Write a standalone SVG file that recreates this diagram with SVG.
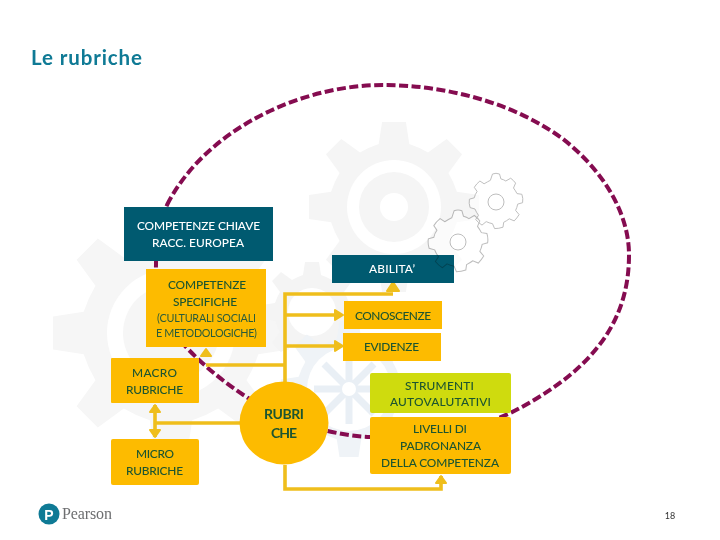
<svg xmlns="http://www.w3.org/2000/svg" width="720" height="540" viewBox="0 0 720 540">
<style>
text{font-family:Lato,"Liberation Sans",sans-serif;text-anchor:middle}
.w{fill:#fff;font-size:11.9px;font-weight:500}
.g{fill:#1c5530;font-size:11.9px;font-weight:500}
.l{fill:#2a5c3a;font-size:10.8px;font-weight:400}
.b{fill:#1c5530;font-size:14px;font-weight:700}
.y{fill:#fdbb00}
.c{fill:none;stroke:#efbe1c;stroke-width:3.6}
.h{fill:#efbe1c;stroke:#efbe1c;stroke-width:2;stroke-linejoin:round}
</style>
<defs>
<path id="gear" d="M-14 -100 L14 -100 L18 -74 Q30 -70 40 -64 L62 -80 L80 -62 L64 -40 Q70 -30 74 -18 L100 -14 L100 14 L74 18 Q70 30 64 40 L80 62 L62 80 L40 64 Q30 70 18 74 L14 100 L-14 100 L-18 74 Q-30 70 -40 64 L-62 80 L-80 62 L-64 40 Q-70 30 -74 18 L-100 14 L-100 -14 L-74 -18 Q-70 -30 -64 -40 L-80 -62 L-62 -80 L-40 -64 Q-30 -70 -18 -74 Z"/>
<path id="cog" d="M-5 -40 Q0 -42 5 -40 L7 -33 Q11 -32 14 -30 L21 -34 Q25 -31 28 -27 L25 -20 Q28 -16 30 -12 L37 -11 Q39 -5 38 1 L31 3 Q30 8 28 12 L33 18 Q30 23 26 27 L19 24 Q15 27 11 29 L10 36 Q4 38 -2 38 L-5 31 Q-10 30 -14 28 L-20 33 Q-25 30 -29 25 L-25 19 Q-28 15 -30 10 L-37 8 Q-39 2 -38 -4 L-31 -6 Q-30 -11 -27 -15 L-31 -21 Q-28 -26 -23 -30 L-17 -26 Q-12 -29 -8 -31 Z"/>
</defs>
<rect width="720" height="540" fill="#fff"/>
<g id="background-gears">
<use href="#gear" transform="translate(394 207) scale(.85)" fill="#f5f5f5"/>
<circle cx="394" cy="207" r="47" fill="#fff"/><circle cx="394" cy="207" r="35" fill="#f5f5f5"/><circle cx="394" cy="207" r="14" fill="#fff"/>
<use href="#gear" transform="translate(171 333) scale(1.18)" fill="#f6f6f6"/>
<circle cx="171" cy="333" r="64" fill="#fff"/><circle cx="171" cy="333" r="48" fill="#f6f6f6"/>
<use href="#gear" transform="translate(312 312) scale(.5)" fill="#f4f4f4"/>
<circle cx="312" cy="312" r="24" fill="#fff"/>
<use href="#gear" transform="translate(349 389) scale(.68)" fill="#eff3f7"/>
<circle cx="349" cy="389" r="42" fill="#fff"/>
<path d="M349 354V424M314 389H384M324 364L374 414M374 364L324 414" stroke="#e9eff5" stroke-width="7"/>
<circle cx="349" cy="389" r="7" fill="#fff"/>
<use href="#cog" transform="translate(496 202) scale(.7)" fill="#fff" fill-opacity=".6"/>
<use href="#cog" transform="translate(458 242) scale(.78)" fill="#fff" fill-opacity=".6"/>
</g>
<path id="loop" d="M167 205C205 130 300 85 383 85C440 85 510 100 563 139C600 168 629 210 629 255C629 315 600 365 520 408C480 430 420 442 370 437C340 436 290 425 248 398C225 383 205 367 186 347C170 330 155 295 156 265C156 245 160 222 167 205Z" fill="none" stroke="#850c50" stroke-width="4" stroke-dasharray="9 3.5"/>
<g id="connectors">
<path class="c" d="M285 382V294H393M285 315H340M285 346H340M285 365H206M285 465V489H441V476M243 423H155M155 405V437"/>
<path class="h" d="M393 282L399 291H387ZM206 349L211 356H201ZM441 476L446 483H436ZM155 405L160 412H150ZM155 437L160 430H150ZM343 315L335 310V320ZM343 346L335 341V351Z"/>
</g>
<text x="31" y="65" textLength="111" style="text-anchor:start;font-size:20.5px;font-weight:700;fill:#0f7a95">Le rubriche</text>
<g id="competenze-chiave"><rect x="124" y="207" width="149" height="54" fill="#005a70"/><text class="w" x="198.5" y="230" textLength="123">COMPETENZE CHIAVE</text><text class="w" x="198" y="247" textLength="92">RACC. EUROPEA</text></g>
<g id="competenze-specifiche"><rect class="y" x="146" y="269" width="120" height="78"/><text class="g" x="207" y="289" textLength="78">COMPETENZE</text><text class="g" x="205" y="306" textLength="64">SPECIFICHE</text><text class="l" x="206.5" y="322" textLength="99">(CULTURALI SOCIALI</text><text class="l" x="206.5" y="337" textLength="101">E METODOLOGICHE)</text></g>
<g id="abilita"><rect x="332" y="255" width="122" height="28" fill="#005a70"/><text class="w" x="392" y="273" textLength="46">ABILITA’</text></g>
<g id="conoscenze"><rect class="y" x="344" y="301" width="98" height="28"/><text class="g" x="393" y="320" textLength="76">CONOSCENZE</text></g>
<g id="evidenze"><rect class="y" x="343" y="333" width="98" height="28"/><text class="g" x="391.5" y="351" textLength="55">EVIDENZE</text></g>
<g id="macro-rubriche"><rect class="y" x="111" y="358" width="88" height="45" rx="1"/><text class="g" x="154.5" y="377" textLength="45">MACRO</text><text class="g" x="154.5" y="394" textLength="57">RUBRICHE</text></g>
<g id="micro-rubriche"><rect class="y" x="111" y="439" width="88" height="46" rx="2"/><text class="g" x="155" y="458" textLength="38">MICRO</text><text class="g" x="154.5" y="475" textLength="57">RUBRICHE</text></g>
<g id="rubriche"><ellipse class="y" cx="284" cy="423" rx="44.5" ry="41.5"/><text class="b" x="284" y="419" textLength="40">RUBRI</text><text class="b" x="284" y="438" textLength="26">CHE</text></g>
<g id="strumenti"><rect x="370" y="373" width="141" height="40" rx="2" fill="#cfdb0e"/><text class="g" x="439.5" y="390" textLength="69">STRUMENTI</text><text class="g" x="440.5" y="406" textLength="101">AUTOVALUTATIVI</text></g>
<g id="livelli"><rect class="y" x="370" y="417" width="141" height="57" rx="2"/><text class="g" x="440" y="433" textLength="54">LIVELLI DI</text><text class="g" x="440.5" y="450" textLength="81">PADRONANZA</text><text class="g" x="440" y="467" textLength="118">DELLA COMPETENZA</text></g>
<g id="cog-outlines" style="mix-blend-mode:multiply" fill="none" stroke="#bdbdbd" stroke-width="1">
<use href="#cog" transform="translate(496 202) scale(.7)" stroke-width="1.4"/><circle cx="496" cy="202" r="8"/>
<use href="#cog" transform="translate(458 242) scale(.78)" stroke-width="1.3"/><circle cx="458" cy="242" r="8"/>
</g>
<g id="logo"><circle cx="49" cy="514" r="10.5" fill="#0f7a95"/><text x="49" y="519.5" style="font-family:'Liberation Sans',sans-serif;font-size:14px;font-weight:700;fill:#fff">P</text><text x="62" y="519" textLength="50" style="text-anchor:start;font-family:'Liberation Serif',serif;font-size:16px;fill:#6d6e70">Pearson</text></g>
<text x="670" y="519" style="font-size:9px;fill:#333">18</text>
</svg>
